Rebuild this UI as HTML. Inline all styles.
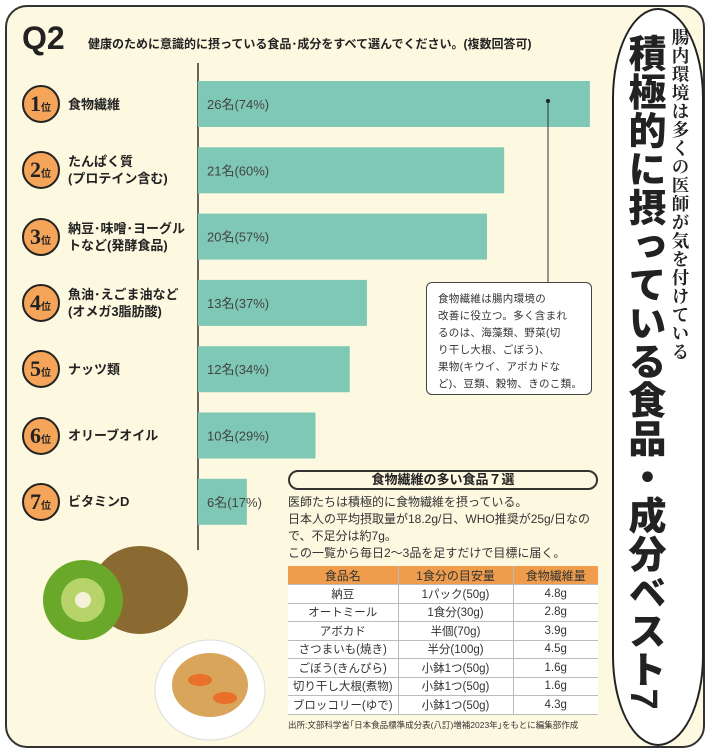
<!DOCTYPE html>
<html><head><meta charset="utf-8"><style>
*{margin:0;padding:0;box-sizing:border-box}
body{width:710px;height:753px;background:#fff;font-family:"Liberation Sans","Noto Sans CJK JP",sans-serif;position:relative;overflow:hidden;color:#222}
.abs{position:absolute}
#frame{left:5px;top:5px;width:700px;height:743px;border:2px solid #333;border-radius:22px;background:#fdf8e0}
#side{left:612px;top:8px;width:92px;height:738px;border:2px solid #222;border-radius:46px/90px;background:#fff}
.vt{writing-mode:vertical-rl;position:absolute;white-space:nowrap}
.rank{position:absolute;left:22px;width:38px;height:38px;border:2px solid #222;border-radius:50%;background:#f4a55a;font-family:"Liberation Serif",serif;font-weight:bold;font-size:22px;line-height:34px;padding-left:6px}
.rank small{font-size:10px;font-family:"Noto Sans CJK JP",sans-serif;font-weight:bold}
.lab{position:absolute;left:68px;font-weight:bold;font-size:13px;line-height:17px}
table{border-collapse:collapse;font-size:11.5px;color:#333}
td,th{height:18.5px;text-align:center;border-bottom:1px solid #bbb;font-weight:normal}
td+td,th+th{border-left:1px solid #bbb}
th{background:#ef9d4d;color:#333;font-size:12px}
tr{background:#fff}
</style></head><body>
<div id="frame" class="abs"></div>
<div id="side" class="abs"></div>
<div class="vt" style="left:621px;top:34px;font-size:38px;font-weight:900;line-height:44px;letter-spacing:0.5px">積極的に摂っている食品・成分ベスト7</div>
<div class="vt" style="left:670px;top:28px;font-family:'Noto Serif CJK SC',serif;font-size:17.5px;font-weight:bold;line-height:20px;letter-spacing:1px">腸内環境は多くの医師が気を付けている</div>
<div class="abs" style="left:22px;top:20px;font-size:32px;font-weight:900">Q2</div>
<div class="abs" style="left:88px;top:35px;font-size:12px;font-weight:bold">健康のために意識的に摂っている食品･成分をすべて選んでください。(複数回答可)</div>
<svg class="abs" style="left:0;top:0" width="710" height="753" id="chart"></svg>
<div id="labels"></div>
<div class="abs" style="left:426px;top:282px;width:166px;height:113px;border:1.5px solid #444;border-radius:6px;background:#fff;font-size:10.5px;line-height:17px;padding:8px 0 0 11px;color:#333;letter-spacing:0.3px;white-space:nowrap">食物繊維は腸内環境の<br>改善に役立つ。多く含まれ<br>るのは、海藻類、野菜(切<br>り干し大根、ごぼう)、<br>果物(キウイ、アボカドな<br>ど)、豆類、穀物、きのこ類。</div>
<div class="abs" style="left:288px;top:470px;width:310px;height:20px;border:2px solid #333;border-radius:10px;text-align:center;font-weight:bold;font-size:13px;line-height:16px">食物繊維の多い食品７選</div>
<div class="abs" style="left:288px;top:494px;width:316px;font-size:12px;line-height:17px;color:#333">医師たちは積極的に食物繊維を摂っている。<br>日本人の平均摂取量が18.2g/日、WHO推奨が25g/日なので、不足分は約7g。<br>この一覧から毎日2〜3品を足すだけで目標に届く。</div>
<table class="abs" style="left:288px;top:566px;width:310px">
<tr><th style="width:110px">食品名</th><th style="width:115px">1食分の目安量</th><th>食物繊維量</th></tr>
<tr><td>納豆</td><td>1パック(50g)</td><td>4.8g</td></tr>
<tr><td>オートミール</td><td>1食分(30g)</td><td>2.8g</td></tr>
<tr><td>アボカド</td><td>半個(70g)</td><td>3.9g</td></tr>
<tr><td>さつまいも(焼き)</td><td>半分(100g)</td><td>4.5g</td></tr>
<tr><td>ごぼう(きんぴら)</td><td>小鉢1つ(50g)</td><td>1.6g</td></tr>
<tr><td>切り干し大根(煮物)</td><td>小鉢1つ(50g)</td><td>1.6g</td></tr>
<tr><td>ブロッコリー(ゆで)</td><td>小鉢1つ(50g)</td><td>4.3g</td></tr>
</table>
<div class="abs" style="left:288px;top:719px;font-size:8.5px;color:#333">出所:文部科学省｢日本食品標準成分表(八訂)増補2023年｣をもとに編集部作成</div>
<svg class="abs" style="left:20px;top:540px" width="260" height="210">
<ellipse cx="120" cy="50" rx="48" ry="44" fill="#8a6a30"/>
<circle cx="63" cy="60" r="40" fill="#6aa82a"/><circle cx="63" cy="60" r="22" fill="#b6d46a"/><circle cx="63" cy="60" r="8" fill="#f4f2d8"/>
<ellipse cx="190" cy="150" rx="55" ry="50" fill="#fff" stroke="#ddd"/><ellipse cx="190" cy="145" rx="38" ry="32" fill="#d9a55a"/><ellipse cx="180" cy="140" rx="12" ry="6" fill="#e8702a"/><ellipse cx="205" cy="158" rx="12" ry="6" fill="#e8702a"/>
</svg>
<script>
const categories=["食物繊維","たんぱく質<br>(プロテイン含む)","納豆･味噌･ヨーグル<br>トなど(発酵食品)","魚油･えごま油など<br>(オメガ3脂肪酸)","ナッツ類","オリーブオイル","ビタミンD"];
const counts=[26,21,20,13,12,10,6];
const percents=[74,60,57,37,34,29,17];
const svg=document.getElementById('chart');
const NS='http://www.w3.org/2000/svg';
const x0=198;
function xScale(v){return x0+17.15*(v-3.15);}
function yScale(i){return 104+66.3*i;}
const ax=document.createElementNS(NS,'line');
ax.setAttribute('x1',x0);ax.setAttribute('x2',x0);ax.setAttribute('y1',63);ax.setAttribute('y2',550);
ax.setAttribute('stroke','#333');ax.setAttribute('stroke-width','1.5');


svg.appendChild(ax);
const lab=document.getElementById('labels');
counts.forEach((c,i)=>{
 const y=yScale(i);
 const r=document.createElementNS(NS,'rect');
 r.setAttribute('x',x0);r.setAttribute('y',y-23);r.setAttribute('width',xScale(c)-x0);r.setAttribute('height',46);r.setAttribute('fill','#7ec8b5');
 
 
 svg.appendChild(r);
 const t=document.createElementNS(NS,'text');
 t.setAttribute('x',x0+9);t.setAttribute('y',y+5);t.setAttribute('font-size','13');t.setAttribute('fill','#444');
 t.textContent=c+'名('+percents[i]+'%)';
 
 
 svg.appendChild(t);
 const rk=document.createElement('div');rk.className='rank';rk.style.top=(y-19)+'px';rk.innerHTML=(i+1)+'<small>位</small>';
 
 
 lab.appendChild(rk);
 const l=document.createElement('div');l.className='lab';l.innerHTML=categories[i];
 const lines=categories[i].split('<br>').length;l.style.top=(y-lines*8.5)+'px';
 
 
 lab.appendChild(l);
});
const ln=document.createElementNS(NS,'line');
ln.setAttribute('x1',548);ln.setAttribute('x2',548);ln.setAttribute('y1',yScale(0)-3);ln.setAttribute('y2',282);ln.setAttribute('stroke','#333');


svg.appendChild(ln);
const dot=document.createElementNS(NS,'circle');
dot.setAttribute('cx',548);dot.setAttribute('cy',yScale(0)-3);dot.setAttribute('r',2);dot.setAttribute('fill','#222');


svg.appendChild(dot);
</script>
</body></html>
